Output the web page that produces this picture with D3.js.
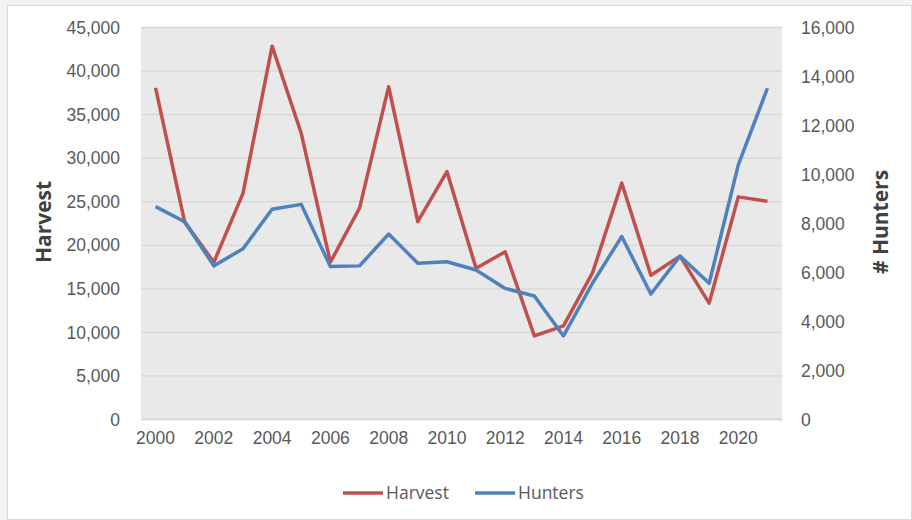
<!DOCTYPE html>
<html><head><meta charset="utf-8">
<script src="https://cdn.jsdelivr.net/npm/d3@7"></script>
<style>
html,body{margin:0;padding:0;background:#f3f3f3;}
svg{display:block;font-family:"Open Sans","Liberation Sans",sans-serif;}
</style></head>
<body>
<svg id="c" width="912" height="520"></svg>
<script>
const years = [2000,2001,2002,2003,2004,2005,2006,2007,2008,2009,2010,2011,2012,2013,2014,2015,2016,2017,2018,2019,2020,2021];
const harvest = [38000,22600,18000,25900,42800,32800,18000,24200,38150,22650,28400,17300,19200,9550,10700,16800,27100,16500,18700,13300,25500,25000];
const hunters = [8670,8050,6250,6950,8560,8760,6220,6250,7550,6360,6420,6080,5330,5020,3390,5550,7450,5100,6650,5540,10370,13500];
const leftTicks = [0,5000,10000,15000,20000,25000,30000,35000,40000,45000];
const rightTicks = [0,2000,4000,6000,8000,10000,12000,14000,16000];
const xTickYears = [2000,2002,2004,2006,2008,2010,2012,2014,2016,2018,2020];
const seriesNames = ["Harvest","Hunters"];
const colors = ["#C0504D","#4F81BD"];

const svg = d3.select("#c");
svg.append("rect").attr("x",7.5).attr("y",5.5).attr("width",904).attr("height",514)
  .attr("fill","#fff").attr("stroke","#d9d9d9");

const L=141, R=782, T=27, B=419;
const x = d3.scaleBand().domain(years).range([L,R]);
const yL = d3.scaleLinear().domain([0,45000]).range([B,T]);
const yR = d3.scaleLinear().domain([0,16000]).range([B,T]);

svg.append("rect").attr("x",L).attr("y",T).attr("width",R-L).attr("height",B-T).attr("fill","#e9e9e9");

// grid
svg.append("g").selectAll("line").data(leftTicks).join("line")
  .attr("x1",L).attr("x2",R).attr("y1",d=>yL(d)+0.5).attr("y2",d=>yL(d)+0.5)
  .attr("stroke",d=>d===0?"#cfcfcf":"#d6d6d6").attr("stroke-width",d=>d===0?1.5:1.3);

const fmt = d3.format(",");
const FS = 17.5;
// left axis
const gl = svg.append("g").attr("transform",`translate(${L-21},0)`)
  .call(d3.axisLeft(yL).tickValues(leftTicks).tickFormat(fmt).tickSize(0).tickPadding(0));
gl.select(".domain").remove();
gl.selectAll("text").attr("font-size",FS).attr("fill","#595959").attr("dy","0.35em");

// right axis
const gr = svg.append("g").attr("transform",`translate(${R+19},0)`)
  .call(d3.axisRight(yR).tickValues(rightTicks).tickFormat(fmt).tickSize(0).tickPadding(0));
gr.select(".domain").remove();
gr.selectAll("text").attr("font-size",FS).attr("fill","#595959").attr("dy","0.35em");

// bottom axis
const gb = svg.append("g").attr("transform",`translate(0,${B+13})`)
  .call(d3.axisBottom(x).tickValues(xTickYears).tickFormat(d3.format("d")).tickSize(0).tickPadding(0));
gb.select(".domain").remove();
gb.selectAll("text").attr("font-size",FS).attr("fill","#595959").attr("dy","0.71em");

// axis titles
svg.append("text").attr("transform","translate(51,222) rotate(-90)").attr("text-anchor","middle")
  .attr("font-size",21).attr("font-weight","bold").attr("fill","#404040").text("Harvest");
svg.append("text").attr("transform","translate(888,222) rotate(-90)").attr("text-anchor","middle")
  .attr("font-size",21).attr("font-weight","bold").attr("fill","#404040").text("# Hunters");

// lines
const cx = d => x(d)+x.bandwidth()/2;
const lineL = d3.line().x((d,i)=>cx(years[i])).y(d=>yL(d));
const lineR = d3.line().x((d,i)=>cx(years[i])).y(d=>yR(d));
svg.append("path").datum(harvest).attr("d",lineL).attr("fill","none")
  .attr("stroke",colors[0]).attr("stroke-width",3.5).attr("stroke-linejoin","round");
svg.append("path").datum(hunters).attr("d",lineR).attr("fill","none")
  .attr("stroke",colors[1]).attr("stroke-width",3.5).attr("stroke-linejoin","round");

// legend
const lg = svg.append("g");
const legX = [343,475];
seriesNames.forEach((n,i)=>{
  lg.append("line").attr("x1",legX[i]).attr("x2",legX[i]+40).attr("y1",493).attr("y2",493)
    .attr("stroke",colors[i]).attr("stroke-width",3.5);
  lg.append("text").attr("x",legX[i]+43).attr("y",493).attr("dy","0.35em")
    .attr("font-size",FS).attr("fill","#595959").text(n);
});
</script>
</body></html>
